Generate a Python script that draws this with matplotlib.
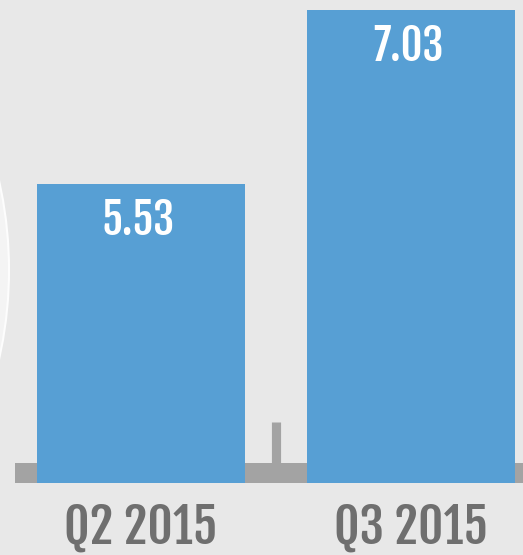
import matplotlib
matplotlib.use('Agg')
import matplotlib.pyplot as plt
from matplotlib.patches import Circle

# data
quarters = ['Q2 2015', 'Q3 2015']
values = [5.53, 7.03]
value_labels = ['5.53', '7.03']

base = 2.953   # value where the bars start (axis does not start at zero)

bg = '#e8e8e8'
blue = '#579fd4'
grey = '#a3a3a3'
text_grey = '#6f6f6f'
fam = ['Fjalla One', 'Oswald', 'DejaVu Sans']

fig = plt.figure(figsize=(5.23, 5.55), dpi=100)
fig.patch.set_facecolor(bg)
ax = fig.add_axes([0, 0, 1, 1])
ax.set_facecolor(bg)

# faint white circle peeking in from the left edge
circ = Circle((-3.97, (555 - 270) / 100), 4.06, transform=fig.dpi_scale_trans,
              facecolor='#f4f4f4', edgecolor='#fdfdfd', lw=1.5, zorder=0)
ax.add_patch(circ)

x = range(len(quarters))
# grey baseline band + small divider tick
ax.axhspan(base, base + 0.172, xmin=15 / 523, xmax=1, color=grey, lw=0, zorder=1)
ax.vlines(0.5, base + 0.17, base + 0.525, color=grey, lw=6.6, zorder=1)

ax.bar(x, [v - base for v in values], bottom=base, width=0.77, color=blue, zorder=2)

for i, (v, lab) in enumerate(zip(values, value_labels)):
    ax.text(i - 0.01, v - 0.115, lab, ha='center', va='top', color='white',
            fontsize=30.5, fontweight='bold', family=fam, zorder=3)

for i, q in enumerate(quarters):
    ax.text(i, base - 0.385, q, ha='center', va='center', color=text_grey,
            fontsize=35.5, fontweight='bold', family=fam, zorder=3)

ax.set_xlim(-0.522, 1.415)
ax.set_ylim(2.332, 7.116)
ax.axis('off')

fig.savefig('out.png', dpi=100, facecolor=bg)
